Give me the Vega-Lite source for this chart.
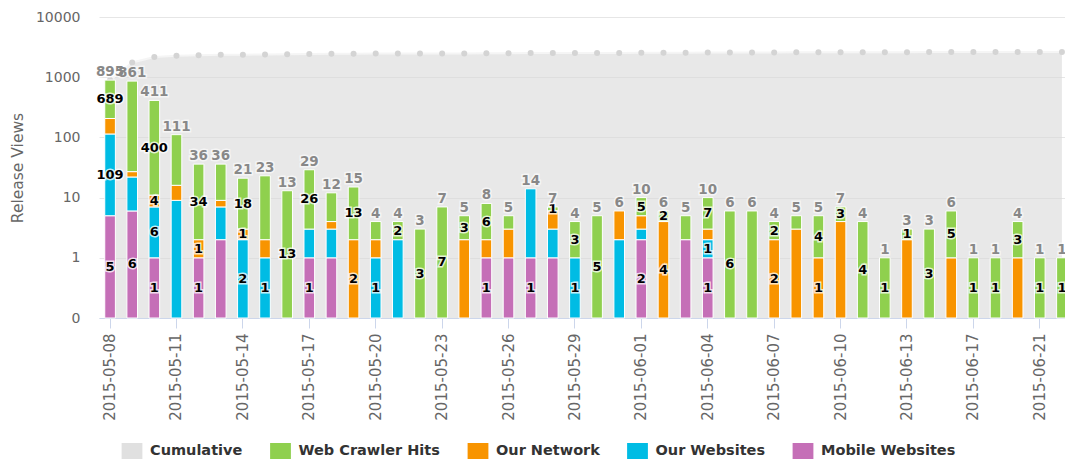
{
  "$schema": "https://vega.github.io/schema/vega-lite/v6.json",
  "width": 966,
  "height": 301,
  "autosize": {"type": "none"},
  "padding": {"left": 99, "top": 17, "right": 0, "bottom": 142},
  "config": {
    "font": "DejaVu Sans",
    "view": {"stroke": null},
    "axisY": {"grid": true, "gridColor": "#e6e6e6", "domain": false, "ticks": false, "labelPadding": 19, "labelColor": "#666666", "labelFontSize": 14, "titleColor": "#666666", "titleFontSize": 15.5, "titleFontWeight": "normal", "titlePadding": 10, "labelOverlap": false},
    "legend": {"padding": 0}
  },
  "data": {"values": [
    {"date": "2015-05-08", "Mobile Websites": 5, "Our Websites": 109, "Our Network": 92, "Web Crawler Hits": 689, "total": 895, "cumulative": 895, "shown": ["Mobile Websites", "Our Websites", "Web Crawler Hits"]},
    {"date": "2015-05-09", "Mobile Websites": 6, "Our Websites": 16, "Our Network": 5, "Web Crawler Hits": 834, "total": 861, "cumulative": 1756, "shown": ["Mobile Websites"]},
    {"date": "2015-05-10", "Mobile Websites": 1, "Our Websites": 6, "Our Network": 4, "Web Crawler Hits": 400, "total": 411, "cumulative": 2167, "shown": ["Mobile Websites", "Our Websites", "Our Network", "Web Crawler Hits"]},
    {"date": "2015-05-11", "Mobile Websites": 0, "Our Websites": 9, "Our Network": 7, "Web Crawler Hits": 95, "total": 111, "cumulative": 2278, "shown": []},
    {"date": "2015-05-12", "Mobile Websites": 1, "Our Websites": 0, "Our Network": 1, "Web Crawler Hits": 34, "total": 36, "cumulative": 2314, "shown": ["Mobile Websites", "Our Network", "Web Crawler Hits"]},
    {"date": "2015-05-13", "Mobile Websites": 2, "Our Websites": 5, "Our Network": 2, "Web Crawler Hits": 27, "total": 36, "cumulative": 2350, "shown": []},
    {"date": "2015-05-14", "Mobile Websites": 0, "Our Websites": 2, "Our Network": 1, "Web Crawler Hits": 18, "total": 21, "cumulative": 2371, "shown": ["Our Websites", "Our Network", "Web Crawler Hits"]},
    {"date": "2015-05-15", "Mobile Websites": 0, "Our Websites": 1, "Our Network": 1, "Web Crawler Hits": 21, "total": 23, "cumulative": 2394, "shown": ["Our Websites"]},
    {"date": "2015-05-16", "Mobile Websites": 0, "Our Websites": 0, "Our Network": 0, "Web Crawler Hits": 13, "total": 13, "cumulative": 2407, "shown": ["Web Crawler Hits"]},
    {"date": "2015-05-17", "Mobile Websites": 1, "Our Websites": 2, "Our Network": 0, "Web Crawler Hits": 26, "total": 29, "cumulative": 2436, "shown": ["Mobile Websites", "Web Crawler Hits"]},
    {"date": "2015-05-18", "Mobile Websites": 1, "Our Websites": 2, "Our Network": 1, "Web Crawler Hits": 8, "total": 12, "cumulative": 2448, "shown": []},
    {"date": "2015-05-19", "Mobile Websites": 0, "Our Websites": 0, "Our Network": 2, "Web Crawler Hits": 13, "total": 15, "cumulative": 2463, "shown": ["Our Network", "Web Crawler Hits"]},
    {"date": "2015-05-20", "Mobile Websites": 0, "Our Websites": 1, "Our Network": 1, "Web Crawler Hits": 2, "total": 4, "cumulative": 2467, "shown": ["Our Websites"]},
    {"date": "2015-05-21", "Mobile Websites": 0, "Our Websites": 2, "Our Network": 0, "Web Crawler Hits": 2, "total": 4, "cumulative": 2471, "shown": ["Web Crawler Hits"]},
    {"date": "2015-05-22", "Mobile Websites": 0, "Our Websites": 0, "Our Network": 0, "Web Crawler Hits": 3, "total": 3, "cumulative": 2474, "shown": ["Web Crawler Hits"]},
    {"date": "2015-05-23", "Mobile Websites": 0, "Our Websites": 0, "Our Network": 0, "Web Crawler Hits": 7, "total": 7, "cumulative": 2481, "shown": ["Web Crawler Hits"]},
    {"date": "2015-05-24", "Mobile Websites": 0, "Our Websites": 0, "Our Network": 2, "Web Crawler Hits": 3, "total": 5, "cumulative": 2486, "shown": ["Web Crawler Hits"]},
    {"date": "2015-05-25", "Mobile Websites": 1, "Our Websites": 0, "Our Network": 1, "Web Crawler Hits": 6, "total": 8, "cumulative": 2494, "shown": ["Mobile Websites", "Web Crawler Hits"]},
    {"date": "2015-05-26", "Mobile Websites": 1, "Our Websites": 0, "Our Network": 2, "Web Crawler Hits": 2, "total": 5, "cumulative": 2499, "shown": []},
    {"date": "2015-05-27", "Mobile Websites": 1, "Our Websites": 13, "Our Network": 0, "Web Crawler Hits": 0, "total": 14, "cumulative": 2513, "shown": ["Mobile Websites"]},
    {"date": "2015-05-28", "Mobile Websites": 1, "Our Websites": 2, "Our Network": 3, "Web Crawler Hits": 1, "total": 7, "cumulative": 2520, "shown": ["Web Crawler Hits"]},
    {"date": "2015-05-29", "Mobile Websites": 0, "Our Websites": 1, "Our Network": 0, "Web Crawler Hits": 3, "total": 4, "cumulative": 2524, "shown": ["Our Websites", "Web Crawler Hits"]},
    {"date": "2015-05-30", "Mobile Websites": 0, "Our Websites": 0, "Our Network": 0, "Web Crawler Hits": 5, "total": 5, "cumulative": 2529, "shown": ["Web Crawler Hits"]},
    {"date": "2015-05-31", "Mobile Websites": 0, "Our Websites": 2, "Our Network": 4, "Web Crawler Hits": 0, "total": 6, "cumulative": 2535, "shown": []},
    {"date": "2015-06-01", "Mobile Websites": 2, "Our Websites": 1, "Our Network": 2, "Web Crawler Hits": 5, "total": 10, "cumulative": 2545, "shown": ["Mobile Websites", "Web Crawler Hits"]},
    {"date": "2015-06-02", "Mobile Websites": 0, "Our Websites": 0, "Our Network": 4, "Web Crawler Hits": 2, "total": 6, "cumulative": 2551, "shown": ["Our Network", "Web Crawler Hits"]},
    {"date": "2015-06-03", "Mobile Websites": 2, "Our Websites": 0, "Our Network": 0, "Web Crawler Hits": 3, "total": 5, "cumulative": 2556, "shown": []},
    {"date": "2015-06-04", "Mobile Websites": 1, "Our Websites": 1, "Our Network": 1, "Web Crawler Hits": 7, "total": 10, "cumulative": 2566, "shown": ["Mobile Websites", "Our Websites", "Web Crawler Hits"]},
    {"date": "2015-06-05", "Mobile Websites": 0, "Our Websites": 0, "Our Network": 0, "Web Crawler Hits": 6, "total": 6, "cumulative": 2572, "shown": ["Web Crawler Hits"]},
    {"date": "2015-06-06", "Mobile Websites": 0, "Our Websites": 0, "Our Network": 0, "Web Crawler Hits": 6, "total": 6, "cumulative": 2578, "shown": []},
    {"date": "2015-06-07", "Mobile Websites": 0, "Our Websites": 0, "Our Network": 2, "Web Crawler Hits": 2, "total": 4, "cumulative": 2582, "shown": ["Our Network", "Web Crawler Hits"]},
    {"date": "2015-06-08", "Mobile Websites": 0, "Our Websites": 0, "Our Network": 3, "Web Crawler Hits": 2, "total": 5, "cumulative": 2587, "shown": []},
    {"date": "2015-06-09", "Mobile Websites": 0, "Our Websites": 0, "Our Network": 1, "Web Crawler Hits": 4, "total": 5, "cumulative": 2592, "shown": ["Our Network", "Web Crawler Hits"]},
    {"date": "2015-06-10", "Mobile Websites": 0, "Our Websites": 0, "Our Network": 4, "Web Crawler Hits": 3, "total": 7, "cumulative": 2599, "shown": ["Web Crawler Hits"]},
    {"date": "2015-06-11", "Mobile Websites": 0, "Our Websites": 0, "Our Network": 0, "Web Crawler Hits": 4, "total": 4, "cumulative": 2603, "shown": ["Web Crawler Hits"]},
    {"date": "2015-06-12", "Mobile Websites": 0, "Our Websites": 0, "Our Network": 0, "Web Crawler Hits": 1, "total": 1, "cumulative": 2604, "shown": ["Web Crawler Hits"]},
    {"date": "2015-06-13", "Mobile Websites": 0, "Our Websites": 0, "Our Network": 2, "Web Crawler Hits": 1, "total": 3, "cumulative": 2607, "shown": ["Web Crawler Hits"]},
    {"date": "2015-06-14", "Mobile Websites": 0, "Our Websites": 0, "Our Network": 0, "Web Crawler Hits": 3, "total": 3, "cumulative": 2610, "shown": ["Web Crawler Hits"]},
    {"date": "2015-06-15", "Mobile Websites": 0, "Our Websites": 0, "Our Network": 1, "Web Crawler Hits": 5, "total": 6, "cumulative": 2616, "shown": ["Web Crawler Hits"]},
    {"date": "2015-06-17", "Mobile Websites": 0, "Our Websites": 0, "Our Network": 0, "Web Crawler Hits": 1, "total": 1, "cumulative": 2617, "shown": ["Web Crawler Hits"]},
    {"date": "2015-06-18", "Mobile Websites": 0, "Our Websites": 0, "Our Network": 0, "Web Crawler Hits": 1, "total": 1, "cumulative": 2618, "shown": ["Web Crawler Hits"]},
    {"date": "2015-06-19", "Mobile Websites": 0, "Our Websites": 0, "Our Network": 1, "Web Crawler Hits": 3, "total": 4, "cumulative": 2622, "shown": ["Web Crawler Hits"]},
    {"date": "2015-06-21", "Mobile Websites": 0, "Our Websites": 0, "Our Network": 0, "Web Crawler Hits": 1, "total": 1, "cumulative": 2623, "shown": ["Web Crawler Hits"]},
    {"date": "2015-06-22", "Mobile Websites": 0, "Our Websites": 0, "Our Network": 0, "Web Crawler Hits": 1, "total": 1, "cumulative": 2624, "shown": ["Web Crawler Hits"]}
  ]},
  "encoding": {
    "x": {
      "field": "date", "type": "ordinal",
      "scale": {"range": [0, 974], "paddingInner": 0.52, "paddingOuter": 0.26},
      "axis": {
        "title": null, "grid": false,
        "values": ["2015-05-08", "2015-05-11", "2015-05-14", "2015-05-17", "2015-05-20", "2015-05-23", "2015-05-26", "2015-05-29", "2015-06-01", "2015-06-04", "2015-06-07", "2015-06-10", "2015-06-13", "2015-06-17", "2015-06-21"],
        "labelAngle": -90, "labelFontSize": 15, "labelColor": "#666666", "labelPadding": 5,
        "tickColor": "#ccd6eb", "domainColor": "#ccd6eb", "tickSize": 10, "labelOverlap": false
      }
    }
  },
  "layer": [
    {
      "mark": {"type": "area", "fill": "#d8d8d8", "fillOpacity": 0.6},
      "encoding": {
        "y": {"field": "cumulative", "type": "quantitative", "title": "Release Views",
          "scale": {"type": "log", "domain": [0.1, 10000], "clamp": true, "nice": false},
          "axis": {"values": [0.1, 1, 10, 100, 1000, 10000], "labelExpr": "datum.value < 0.5 ? '0' : format(datum.value, 'd')"}}
      }
    },
    {
      "mark": {"type": "line", "stroke": "#f5f5f5", "strokeWidth": 2},
      "encoding": {"y": {"field": "cumulative", "type": "quantitative", "title": "Release Views"}}
    },
    {
      "mark": {"type": "point", "filled": true, "fill": "#d4d4d4", "size": 36, "opacity": 1},
      "encoding": {"y": {"field": "cumulative", "type": "quantitative", "title": "Release Views"}}
    },
    {
      "transform": [
        {"fold": ["Mobile Websites", "Our Websites", "Our Network", "Web Crawler Hits"], "as": ["series", "value"]},
        {"stack": "value", "groupby": ["date"], "as": ["y0", "y1"]},
        {"filter": "datum.value > 0"}
      ],
      "layer": [
        {
          "mark": {"type": "bar", "stroke": "white", "strokeWidth": 1},
          "encoding": {
            "y": {"field": "y1", "type": "quantitative", "title": "Release Views"},
            "y2": {"field": "y0"},
            "color": {
              "field": "series", "type": "nominal",
              "scale": {"domain": ["Cumulative", "Web Crawler Hits", "Our Network", "Our Websites", "Mobile Websites"], "range": ["#e0e0e0", "#8fd04e", "#f89400", "#00bce4", "#c56fb7"]},
              "legend": {
                "orient": "none", "legendX": 25, "legendY": 426, "direction": "horizontal", "title": null,
                "symbolType": "M-1.3,-1H1.3V1H-1.3Z", "symbolSize": 256, "symbolStrokeWidth": 0, "symbolOpacity": 1,
                "labelFontSize": 14.5, "labelFontWeight": "bold", "labelColor": "#333333", "labelOffset": 10, "columnPadding": 26.5
              }
            }
          }
        },
        {
          "transform": [
            {"filter": "indexof(datum.shown, datum.series) >= 0"},
            {"calculate": "sqrt(max(datum.y0, 0.1) * datum.y1)", "as": "mid"}
          ],
          "layer": [
            {
              "mark": {"type": "text", "fontSize": 13, "fontWeight": "bold", "fill": "white", "stroke": "white", "strokeWidth": 3, "strokeOpacity": 0.75, "baseline": "middle"},
              "encoding": {"y": {"field": "mid", "type": "quantitative", "title": "Release Views"}, "text": {"field": "value", "type": "quantitative"}}
            },
            {
              "mark": {"type": "text", "fontSize": 13, "fontWeight": "bold", "fill": "#000000", "baseline": "middle"},
              "encoding": {"y": {"field": "mid", "type": "quantitative", "title": "Release Views"}, "text": {"field": "value", "type": "quantitative"}}
            }
          ]
        }
      ]
    },
    {
      "mark": {"type": "text", "fontSize": 13.5, "fontWeight": "bold", "fill": "white", "stroke": "white", "strokeWidth": 3, "strokeOpacity": 0.6, "dy": -8},
      "encoding": {"y": {"field": "total", "type": "quantitative", "title": "Release Views"}, "text": {"field": "total", "type": "quantitative"}}
    },
    {
      "mark": {"type": "text", "fontSize": 13.5, "fontWeight": "bold", "fill": "#888888", "dy": -8},
      "encoding": {"y": {"field": "total", "type": "quantitative", "title": "Release Views"}, "text": {"field": "total", "type": "quantitative"}}
    }
  ]
}
